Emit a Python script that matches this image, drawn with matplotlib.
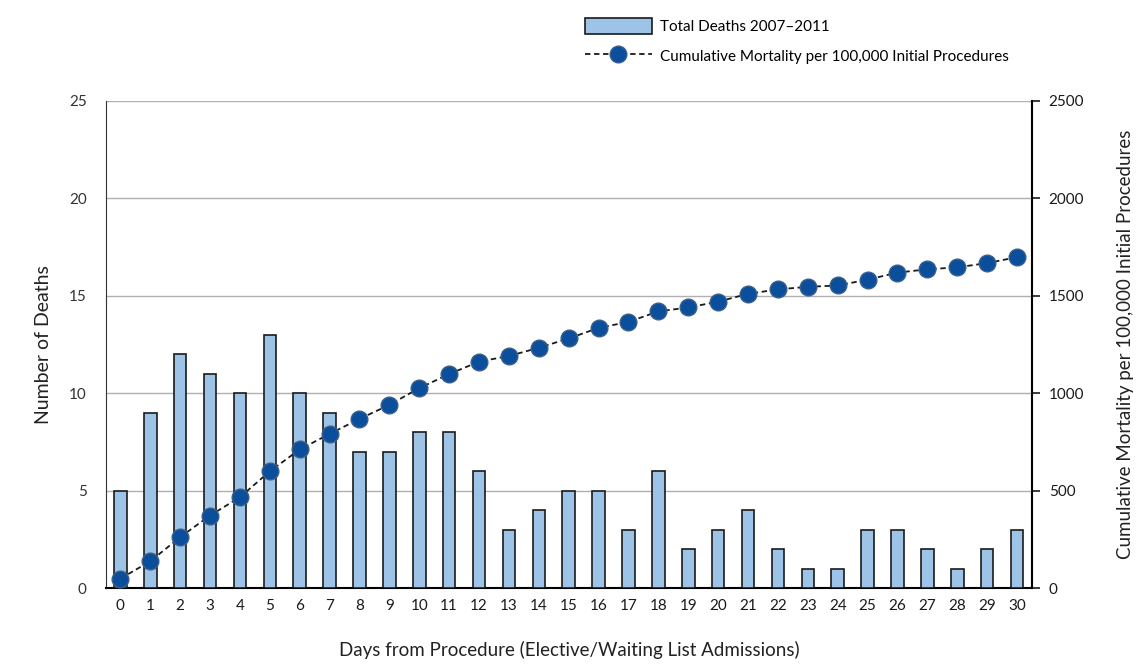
import matplotlib
matplotlib.use("Agg")
import matplotlib.pyplot as plt
import numpy as np

# ----------------------------
# DATA
# ----------------------------
days = list(range(31))
deaths = [5, 9, 12, 11, 10, 13, 10, 9, 7, 7, 8, 8, 6, 3, 4, 5, 5, 3, 6, 2,
          3, 4, 2, 1, 1, 3, 3, 2, 1, 2, 3]
cum_mortality = [48, 137, 261, 372, 466, 599, 711, 791, 868, 940, 1026, 1098,
                 1162, 1191, 1233, 1281, 1335, 1366, 1420, 1440, 1470, 1510,
                 1533, 1546, 1553, 1583, 1619, 1636, 1646, 1668, 1698]

bar_label = "Total Deaths 2007\u20132011"
line_label = "Cumulative Mortality per 100,000 Initial Procedures"

plt.rcParams['font.family'] = ['Lato', 'DejaVu Sans']

fig = plt.figure(figsize=(11.41, 6.65), dpi=100)
ax = fig.add_axes([106/1141, 1 - 588/665, (1032 - 106)/1141, (588 - 101)/665])
ax2 = ax.twinx()

# bars
bars = ax.bar(days, deaths, width=0.42, color="#9dc3e6", edgecolor="#1a1a1a",
              linewidth=1.2, zorder=3, label=bar_label)
ax.set_xlim(-0.48, 30.5)
ax.set_ylim(0, 25)
ax.set_yticks(range(0, 26, 5))
ax.set_xticks(days)
ax.grid(axis="y", color="#b0b0b0", linewidth=1.0, zorder=0)
ax.set_axisbelow(True)
ax.tick_params(axis="y", length=0, labelsize=11, colors="#333333", pad=14)
ax.tick_params(axis="x", length=0, labelsize=11, colors="#1a1a1a", pad=8)
ax.spines["top"].set_visible(False)
ax.spines["right"].set_visible(False)
ax.spines["left"].set_color("#333333")
ax.spines["bottom"].set_linewidth(1.5)
ax.set_ylabel("Number of Deaths", fontsize=14, color="#222222", labelpad=12)
ax.set_xlabel("Days from Procedure (Elective/Waiting List Admissions)",
              fontsize=13.5, color="#222222", labelpad=20)

# cumulative line on right axis
line, = ax2.plot(days, cum_mortality, linestyle=(0, (3, 2)), color="#1a1a1a",
                 linewidth=1.3, marker="o", markersize=12,
                 markerfacecolor="#0b4f9c", markeredgecolor="#3a5f8a",
                 markeredgewidth=1.0, zorder=5, label=line_label)
ax2.set_ylim(0, 2500)
ax2.set_yticks(range(0, 2501, 500))
ax2.tick_params(axis="y", length=6, width=1.2, labelsize=11, colors="#1a1a1a",
                pad=6)
ax2.spines["top"].set_visible(False)
ax2.spines["left"].set_visible(False)
ax2.spines["bottom"].set_visible(False)
ax2.spines["right"].set_linewidth(1.5)
ax2.set_ylabel("Cumulative Mortality per 100,000 Initial Procedures",
               fontsize=13.5, color="#222222", labelpad=24)
ax.set_zorder(ax2.get_zorder() - 1)
ax.patch.set_visible(False)
ax2.patch.set_visible(False)

fig.legend(handles=[bars, line], labels=[bar_label, line_label],
           loc="upper left", bbox_to_anchor=(571/1141, 1 - 4/665),
           frameon=False, fontsize=11, handlelength=4.4, handleheight=1.3,
           labelspacing=0.85, handletextpad=0.5)

fig.savefig("out.png", dpi=100)
